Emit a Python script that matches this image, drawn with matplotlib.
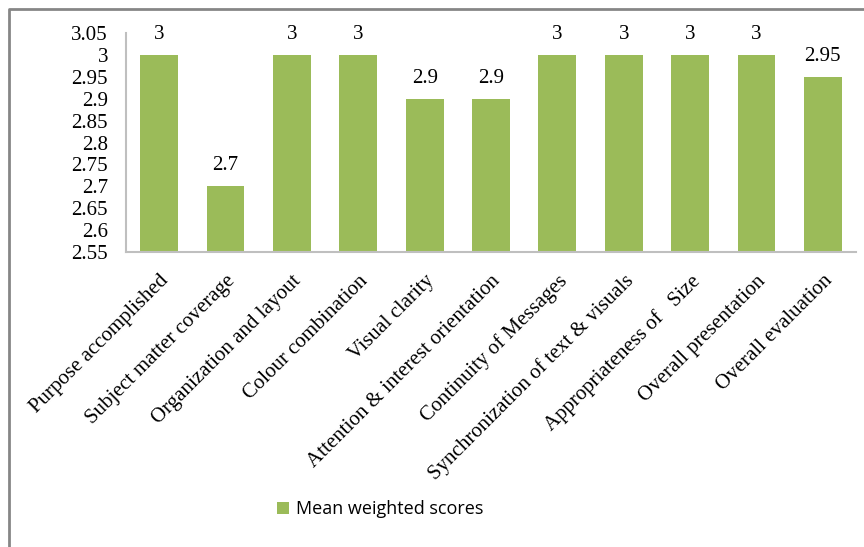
import matplotlib.pyplot as plt
from matplotlib.lines import Line2D

plt.rcParams["font.family"] = "Liberation Serif"

# chart data
categories = ["Purpose accomplished", "Subject matter coverage", "Organization and layout",
              "Colour combination", "Visual clarity", "Attention & interest orientation",
              "Continuity of Messages", "Synchronization of text & visuals",
              "Appropriateness of   Size", "Overall presentation", "Overall evaluation"]
scores = [3, 2.7, 3, 3, 2.9, 2.9, 3, 3, 3, 3, 2.95]
score_labels = ["3", "2.7", "3", "3", "2.9", "2.9", "3", "3", "3", "3", "2.95"]
y_ticks = [2.55, 2.6, 2.65, 2.7, 2.75, 2.8, 2.85, 2.9, 2.95, 3, 3.05]
y_tick_labels = ["2.55", "2.6", "2.65", "2.7", "2.75", "2.8", "2.85", "2.9", "2.95", "3", "3.05"]

W, H = 864, 547
fig = plt.figure(figsize=(W / 100, H / 100), dpi=100)
ax = fig.add_axes([126 / W, 1 - 252 / H, 730 / W, 219 / H])

x = list(range(len(categories)))
bars = ax.bar(x, scores, width=0.57, color="#9BBB59", label="Mean weighted scores", zorder=2)

ax.set_xlim(-0.5, len(categories) - 0.5)
ax.set_ylim(2.55, 3.05)
ax.tick_params(axis="both", length=0)
ax.tick_params(axis="y", pad=13)
ax.tick_params(axis="x", pad=14)
ax.set_yticks(y_ticks)
ax.set_yticklabels(y_tick_labels, fontsize=15)
ax.set_xticks(x)
ax.set_xticklabels(categories, rotation=45, ha="right", va="top", rotation_mode="anchor",
                   fontsize=15)

for side in ["top", "right"]:
    ax.spines[side].set_visible(False)
for side in ["left", "bottom"]:
    ax.spines[side].set_color("#BFBFBF")
    ax.spines[side].set_linewidth(1.5)

# value labels above bars
for xi, val, txt in zip(x, scores, score_labels):
    ax.annotate(txt, (xi, val), xytext=(0, 8), textcoords="offset points",
                ha="center", va="bottom", fontsize=15, annotation_clip=False)

leg = fig.legend(handles=[bars], labels=["Mean weighted scores"], loc="center",
                 bbox_to_anchor=(380 / W, 1 - 509 / H), frameon=False,
                 prop={"family": "Open Sans", "size": 13}, handlelength=0.65,
                 handleheight=0.65, handletextpad=0.4)

# outer chart border (cropped on right and bottom)
fig.add_artist(Line2D([9 / W, 9 / W, 1], [0, 1 - 9 / H, 1 - 9 / H],
                      transform=fig.transFigure, color="#868686", linewidth=2))

fig.savefig("out.png", dpi=100)
